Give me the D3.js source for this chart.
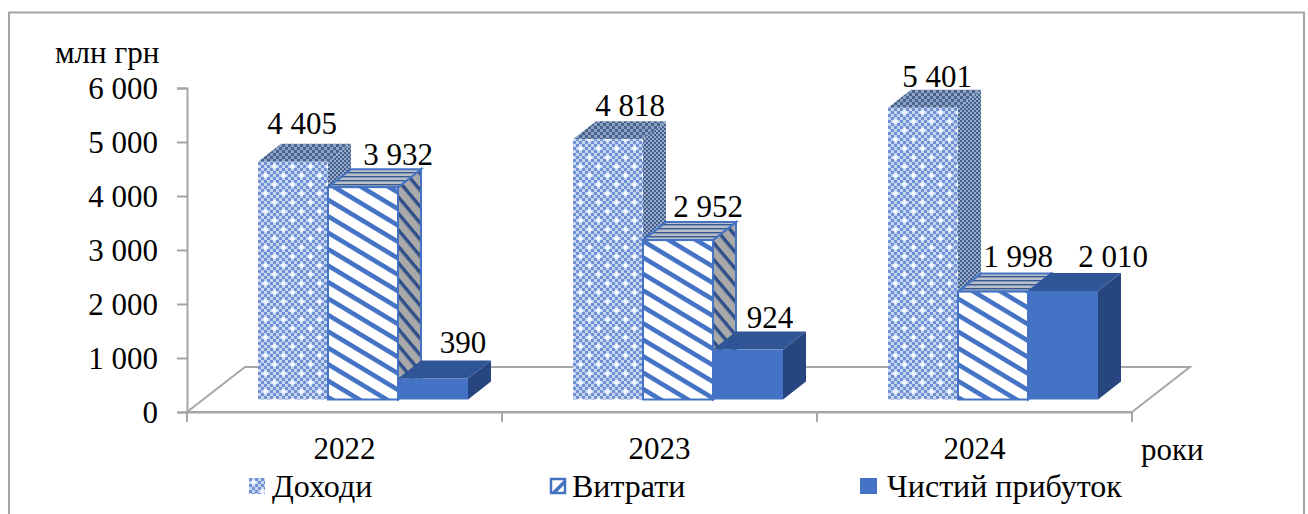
<!DOCTYPE html>
<html lang="uk">
<head>
<meta charset="utf-8">
<title>Доходи, витрати та чистий прибуток</title>
<script src="https://cdn.jsdelivr.net/npm/d3@7"></script>
<style>
  html, body { margin: 0; padding: 0; background: #fff; }
  svg { display: block; }
  text { font-family: "Liberation Serif", "Times New Roman", serif; fill: #000; }
</style>
</head>
<body>
<svg id="chart" width="1308" height="514"></svg>
<script>
// Chart data, UAH million
const years = ["2022", "2023", "2024"];
const seriesNames = ["Доходи", "Витрати", "Чистий прибуток"];
const income = [4405, 4818, 5401];
const expenses = [3932, 2952, 1998];
const profit = [390, 924, 2010];
const yTicks = [0, 1000, 2000, 3000, 4000, 5000, 6000];

const seriesValues = [income, expenses, profit];

// Hand placement of the value labels: offset from the column's centre and back top edge, [dx, dy]
const labelNudges = [
  [[9, -10], [35, -4], [30, -7]],
  [[22, -5], [30, -5], [22, -4]],
  [[14, -3], [25, -7], [50, -6]]
];

const svg = d3.select("#chart");
const defs = svg.append("defs");
const BLUE = "#4472c4";
const GREY = "#a6a6a6";
const fontSize = 31;

// Oblique projection used for the pseudo-3D columns and floor
const depth = { x: 23, y: -18 };
const floorDepth = { x: 58, y: -45 };
const floorLift = 12.5;

const y = d3.scaleLinear().domain([0, 6000]).range([412, 88]);
const x = d3.scaleBand().domain(years).range([187, 1132]);
const xInner = d3.scaleBand().domain(seriesNames).range([71, 281]);

// ---- Fill patterns ----
function checkerPattern(id, tile, dark, light, sparkle) {
  const p = defs.append("pattern").attr("id", id)
    .attr("patternUnits", "userSpaceOnUse")
    .attr("width", tile * 6).attr("height", tile * 6);
  p.append("rect").attr("width", tile * 6).attr("height", tile * 6).attr("fill", light);
  d3.range(6).forEach(r => d3.range(6).forEach(c => {
    if ((r + c) % 2 === 0) {
      p.append("rect").attr("x", c * tile).attr("y", r * tile)
        .attr("width", tile).attr("height", tile).attr("fill", dark);
    }
  }));
  if (sparkle) {
    [[tile * 1.5, tile * 1.5], [tile * 4.5, tile * 4.5]].forEach(([cx, cy]) => {
      p.append("circle").attr("cx", cx).attr("cy", cy).attr("r", tile * 0.8).attr("fill", "#f2f7ff");
    });
  }
}

function stripePattern(id, period, angle, stripe, bg, fg) {
  const p = defs.append("pattern").attr("id", id)
    .attr("patternUnits", "userSpaceOnUse")
    .attr("width", period).attr("height", period)
    .attr("patternTransform", `rotate(${angle})`);
  p.append("rect").attr("width", period).attr("height", period).attr("fill", bg);
  p.append("rect").attr("width", period).attr("height", stripe).attr("fill", fg);
}

checkerPattern("income-front", 3, "#6f90d3", "#c6d5f0", true);
checkerPattern("income-side", 2, "#42608f", "#98a9c6", false);
checkerPattern("income-top", 3, "#47648f", "#8ea1c2", false);
stripePattern("expense-front", 14.1, 31, 4.6, "#fff", BLUE);
stripePattern("expense-side", 10.6, 50, 3.4, "#a9a9a9", "#2f4f8a");
stripePattern("expense-top", 4, 0, 1.4, "#b8bfca", "#34588f");

const faces = {
  "Доходи": { front: "url(#income-front)", side: "url(#income-side)", top: "url(#income-top)", stroke: "none" },
  "Витрати": { front: "url(#expense-front)", side: "url(#expense-side)", top: "url(#expense-top)", stroke: BLUE },
  "Чистий прибуток": { front: BLUE, side: "#27457e", top: "#2f5597", stroke: "none" }
};

// ---- Chart frame ----
svg.append("path").attr("d", "M9,520V12.5H1304V520")
  .attr("fill", "none").attr("stroke", GREY).attr("stroke-width", 2);

// ---- Floor ----
const [x0, x1] = x.range();
const y0 = y(0);
const floor = d3.path();
floor.moveTo(x0, y0);
floor.lineTo(x0 + floorDepth.x, y0 + floorDepth.y);
floor.lineTo(x1 + floorDepth.x, y0 + floorDepth.y);
floor.lineTo(x1, y0);
floor.closePath();
svg.append("path").attr("d", floor.toString())
  .attr("fill", "none").attr("stroke", GREY).attr("stroke-width", 2);

// ---- Value axis ----
const yAxis = svg.append("g").attr("transform", `translate(${x0},0)`)
  .call(d3.axisLeft(y).tickValues(yTicks).tickSize(10).tickPadding(19)
    .tickFormat(d => d3.format(",")(d).replace(",", " ")));
yAxis.selectAll("path, line").attr("stroke", GREY).attr("stroke-width", 2);
yAxis.selectAll("text").attr("font-size", fontSize).attr("dy", "0.34em")
  .attr("font-family", null);

// ---- Category axis ----
const xAxis = svg.append("g").attr("transform", `translate(0,${y0})`)
  .call(d3.axisBottom(x).tickSize(0).tickPadding(27));
xAxis.select("path").attr("stroke", GREY).attr("stroke-width", 2);
xAxis.selectAll("line").remove();
xAxis.selectAll("text").attr("font-size", fontSize).attr("font-family", null).attr("dy", "0.66em");
const edges = years.map(d => x(d)).concat(x1);
svg.append("g").selectAll("line").data(edges).join("line")
  .attr("x1", d => d).attr("x2", d => d)
  .attr("y1", y0).attr("y2", y0 + 10)
  .attr("stroke", GREY).attr("stroke-width", 2);

// ---- Columns ----
years.forEach((year, yi) => {
  const g = svg.append("g");
  seriesNames.forEach((name, si) => {
    const value = seriesValues[si][yi];
    const left = x(year) + xInner(name);
    const w = xInner.bandwidth();
    const top = y(value) - floorLift;
    const bottom = y0 - floorLift;
    const f = faces[name];
    const sw = f.stroke === "none" ? 0 : 2;

    g.append("path")
      .attr("d", `M${left + w},${top}L${left + w + depth.x},${top + depth.y}L${left + w + depth.x},${bottom + depth.y}L${left + w},${bottom}Z`)
      .attr("fill", f.side).attr("stroke", f.stroke).attr("stroke-width", sw);
    g.append("path")
      .attr("d", `M${left},${top}L${left + depth.x},${top + depth.y}L${left + w + depth.x},${top + depth.y}L${left + w},${top}Z`)
      .attr("fill", f.top).attr("stroke", f.stroke).attr("stroke-width", sw);
    g.append("rect")
      .attr("x", left).attr("y", top).attr("width", w).attr("height", bottom - top)
      .attr("fill", f.front).attr("stroke", f.stroke).attr("stroke-width", sw);
  });
});

// ---- Value labels sit above every column face ----
years.forEach((year, yi) => {
  seriesNames.forEach((name, si) => {
    const value = seriesValues[si][yi];
    const [dx, dy] = labelNudges[yi][si];
    svg.append("text")
      .attr("x", x(year) + xInner(name) + xInner.bandwidth() / 2 + dx)
      .attr("y", y(value) - floorLift + depth.y + dy)
      .attr("text-anchor", "middle")
      .attr("font-size", fontSize)
      .text(d3.format(",")(value).replace(",", " "));
  });
});

// ---- Axis titles ----
svg.append("text").attr("x", 55).attr("y", 63).attr("font-size", 31).text("млн грн");
svg.append("text").attr("x", 1141).attr("y", 460).attr("font-size", 31).text("роки");

// ---- Legend ----
const legendX = [249, 550, 860];
const legend = svg.append("g").selectAll("g").data(seriesNames).join("g")
  .attr("transform", (d, i) => `translate(${legendX[i]},478)`);
legend.filter(d => d === "Доходи").append("rect")
  .attr("width", 16).attr("height", 16).attr("fill", "url(#income-front)");
const exp = legend.filter(d => d === "Витрати");
exp.append("rect").attr("x", 1).attr("y", 1).attr("width", 14).attr("height", 14).attr("fill", "#fff")
  .attr("stroke", BLUE).attr("stroke-width", 2.5);
exp.append("path").attr("d", "M1,15L15,1V6L6,15Z").attr("fill", BLUE);
legend.filter(d => d === "Чистий прибуток").append("rect")
  .attr("width", 17).attr("height", 16).attr("fill", BLUE);
legend.append("text").attr("x", (d, i) => [23, 22, 27][i]).attr("y", 19)
  .attr("font-size", 32).text(d => d);
</script>
</body>
</html>
